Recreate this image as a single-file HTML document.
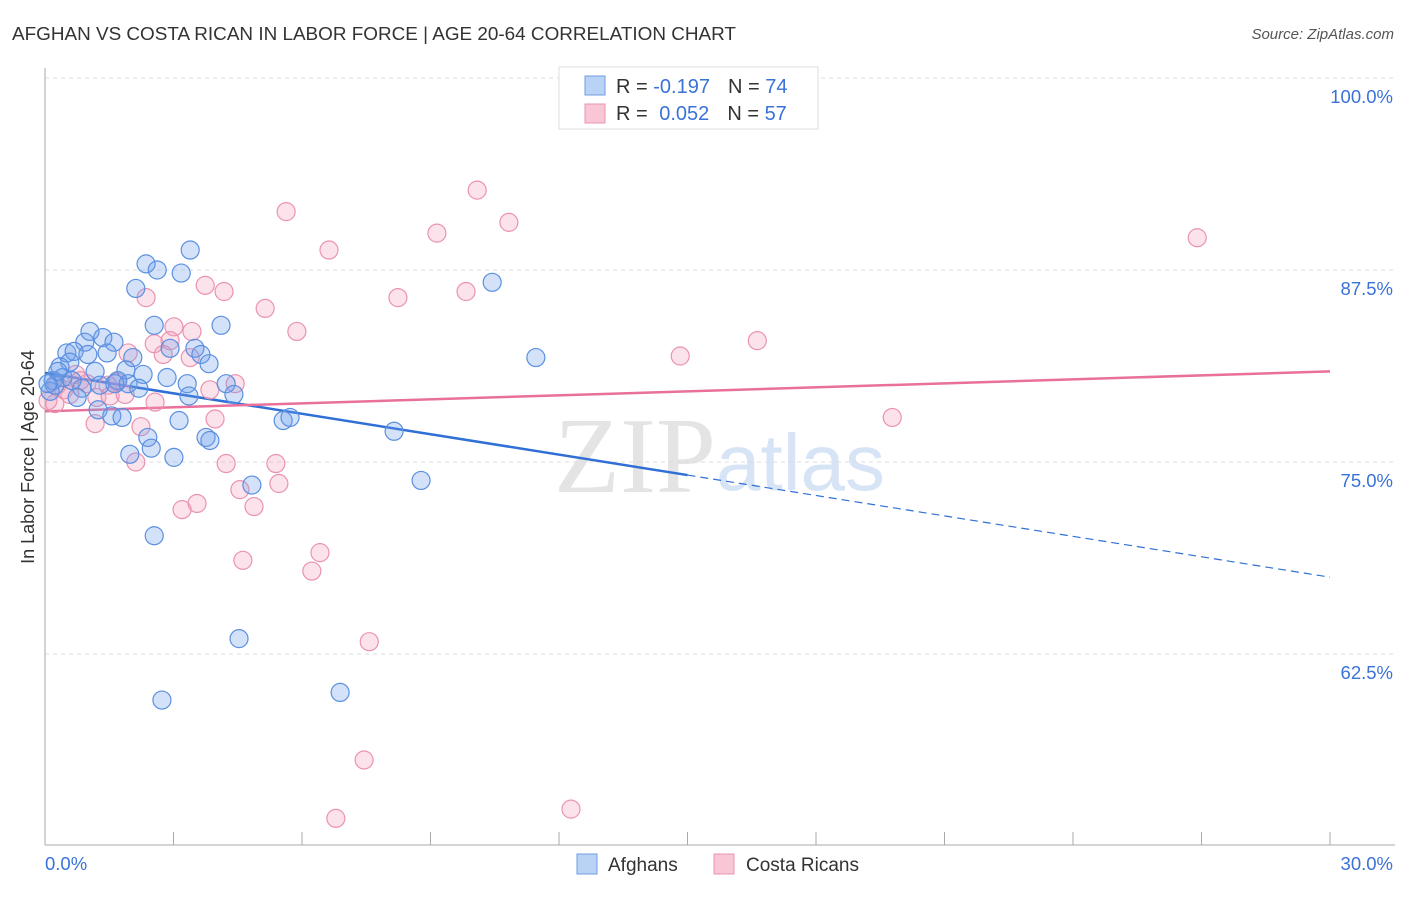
<!DOCTYPE html>
<html><head><meta charset="utf-8"><style>
body{margin:0;background:#fff;font-family:"Liberation Sans",sans-serif}
</style></head><body>
<svg id="chart" width="1406" height="892" xmlns="http://www.w3.org/2000/svg" font-family="Liberation Sans, sans-serif">
<text x="12" y="40" font-size="18.9" fill="#333">AFGHAN VS COSTA RICAN IN LABOR FORCE | AGE 20-64 CORRELATION CHART</text>
<text x="1394" y="39" font-size="15" fill="#555" text-anchor="end" font-style="italic">Source: ZipAtlas.com</text>
<text x="716" y="492" font-size="108" fill="#e4e4e4" text-anchor="end" font-family="Liberation Serif, serif">ZIP</text>
<text x="716" y="490" font-size="80" fill="#d6e4f5">atlas</text>
<g id="grid"></g>
<g id="axes"></g>
<g id="trend"></g>
<g id="points"></g>
<text transform="translate(34,457) rotate(-90)" font-size="18" fill="#333" text-anchor="middle">In Labor Force | Age 20-64</text>
<g>
<rect x="559" y="67" width="259" height="62" fill="#fff" stroke="#ddd"/>
<rect x="585" y="76" width="20" height="19" fill="#b9d3f7" stroke="#6f9de3"/>
<rect x="585" y="104" width="20" height="19" fill="#f8c6d5" stroke="#eb94b0"/>
<text x="616" y="93" font-size="20" fill="#333">R = <tspan fill="#3a72d8">-0.197</tspan><tspan dx="18">N = </tspan><tspan fill="#3a72d8">74</tspan></text>
<text x="616" y="120" font-size="20" fill="#333">R = <tspan fill="#3a72d8" dx="6">0.052</tspan><tspan dx="18">N = </tspan><tspan fill="#3a72d8">57</tspan></text>
</g>
<g>
<rect x="577" y="854" width="20" height="20" fill="#b9d3f7" stroke="#6f9de3"/>
<text x="608" y="871" font-size="19" fill="#333">Afghans</text>
<rect x="714" y="854" width="20" height="20" fill="#f8c6d5" stroke="#eb94b0"/>
<text x="746" y="871" font-size="19" fill="#333">Costa Ricans</text>
</g>
</svg>
<script>
const blueX=[3.39,2.36,2.62,3.18,2.12,10.44,2.55,4.11,1.05,1.35,1.61,0.93,0.51,0.68,1.00,1.45,2.05,2.92,3.50,3.64,3.83,11.46,0.58,0.35,1.17,1.89,2.29,2.85,3.32,4.23,0.19,0.42,0.86,1.28,1.70,1.94,2.19,3.36,4.41,0.12,0.75,1.24,1.56,1.80,3.13,5.56,5.72,8.15,2.40,3.76,3.85,2.48,1.98,3.01,8.78,4.83,2.55,4.53,6.89,2.73,0.23,0.63,1.63,0.07,0.30];
const blueY=[88.8,87.9,87.5,87.3,86.3,86.7,83.9,83.9,83.5,83.1,82.8,82.8,82.1,82.2,82.0,82.1,81.8,82.4,82.4,82.0,81.4,81.8,81.5,81.2,80.9,81.0,80.7,80.5,80.1,80.1,80.3,80.5,79.8,80.0,80.3,80.1,79.8,79.3,79.4,79.6,79.2,78.4,78.0,77.9,77.7,77.7,77.9,77.0,76.6,76.6,76.4,75.9,75.5,75.3,73.8,73.5,70.2,63.5,60.0,59.5,80.0,80.3,80.1,80.1,80.9];
const pinkX=[10.09,5.63,10.83,9.15,26.90,6.63,3.74,4.18,9.83,2.36,8.24,5.14,3.01,3.43,5.88,2.92,2.55,16.63,14.83,2.76,3.39,1.94,0.72,1.47,4.44,3.85,0.28,0.44,0.98,1.68,1.21,2.57,0.23,19.78,1.17,3.97,2.24,2.12,4.23,5.39,4.55,5.46,3.55,3.20,4.88,6.42,4.62,6.23,7.57,7.45,12.28,6.79,0.07,0.58,1.52,1.87,0.82];
const pinkY=[92.7,91.3,90.6,89.9,89.6,88.8,86.5,86.1,86.1,85.7,85.7,85.0,83.8,83.5,83.5,82.9,82.7,82.9,81.9,82.0,81.8,82.1,80.7,80.0,80.1,79.7,80.0,79.7,80.1,80.2,79.2,78.9,78.8,77.9,77.5,77.8,77.3,75.0,74.9,74.9,73.2,73.6,72.3,71.9,72.1,69.1,68.6,67.9,63.3,55.6,52.4,51.8,79.0,79.4,79.3,79.4,80.3];
const blueTrend=[80.8,67.5];
const pinkTrend=[78.3,80.9];
const yTicks=[100,87.5,75,62.5];
const yTickLabels=["100.0%","87.5%","75.0%","62.5%"];
const xTicks=[0,3,6,9,12,15,18,21,24,27,30];
const NS="http://www.w3.org/2000/svg";
const sx=v=>45+v/30*1285;
const sy=v=>78+(100-v)/12.5*192;
function mk(tag,attrs,parent){const e=document.createElementNS(NS,tag);for(const k in attrs)e.setAttribute(k,attrs[k]);document.getElementById(parent).appendChild(e);return e;}
yTicks.forEach((t,i)=>{
 const l=mk('line',{x1:45,x2:1395,y1:sy(t),y2:sy(t),stroke:'#ddd','stroke-dasharray':'4,4'},'grid');
 
 
 const tx=mk('text',{x:1393,y:sy(t)+25,'font-size':18.5,fill:'#3a72d8','text-anchor':'end'},'grid');
 tx.textContent=yTickLabels[i];
 
 
});
const ya=mk('line',{x1:45,x2:45,y1:68,y2:845,stroke:'#aaa'},'axes');


const xa=mk('line',{x1:45,x2:1395,y1:845,y2:845,stroke:'#aaa'},'axes');


xTicks.forEach(t=>{
 const l=mk('line',{x1:sx(t),x2:sx(t),y1:832,y2:845,stroke:'#aaa'},'axes');
 
 
});
const x0=mk('text',{x:45,y:870,'font-size':18.5,fill:'#3a72d8'},'axes');x0.textContent='0.0%';


const x1=mk('text',{x:1393,y:870,'font-size':18.5,fill:'#3a72d8','text-anchor':'end'},'axes');x1.textContent='30.0%';


function dots(X,Y,fill,stroke,name){X.forEach((x,i)=>{
 const c=mk('circle',{cx:sx(x),cy:sy(Y[i]),r:9,fill:fill,stroke:stroke,'stroke-width':1.2},'points');
 
 
});}
dots(pinkX,pinkY,'rgba(244,160,190,0.3)','#ea93b0','costa-rican-point');
dots(blueX,blueY,'rgba(110,160,235,0.3)','#5b8fe0','afghan-point');
const by=x=>blueTrend[0]+(blueTrend[1]-blueTrend[0])*x/30;
const b1=mk('line',{x1:sx(0),y1:sy(by(0)),x2:sx(15),y2:sy(by(15)),stroke:'#2f6fd6','stroke-width':2.5},'trend');


const b2=mk('line',{x1:sx(15),y1:sy(by(15)),x2:sx(30),y2:sy(by(30)),stroke:'#2f6fd6','stroke-width':1.2,'stroke-dasharray':'8,5'},'trend');


const p1=mk('line',{x1:sx(0),y1:sy(pinkTrend[0]),x2:sx(30),y2:sy(pinkTrend[1]),stroke:'#e8709a','stroke-width':2.5},'trend');


</script>
</body></html>
